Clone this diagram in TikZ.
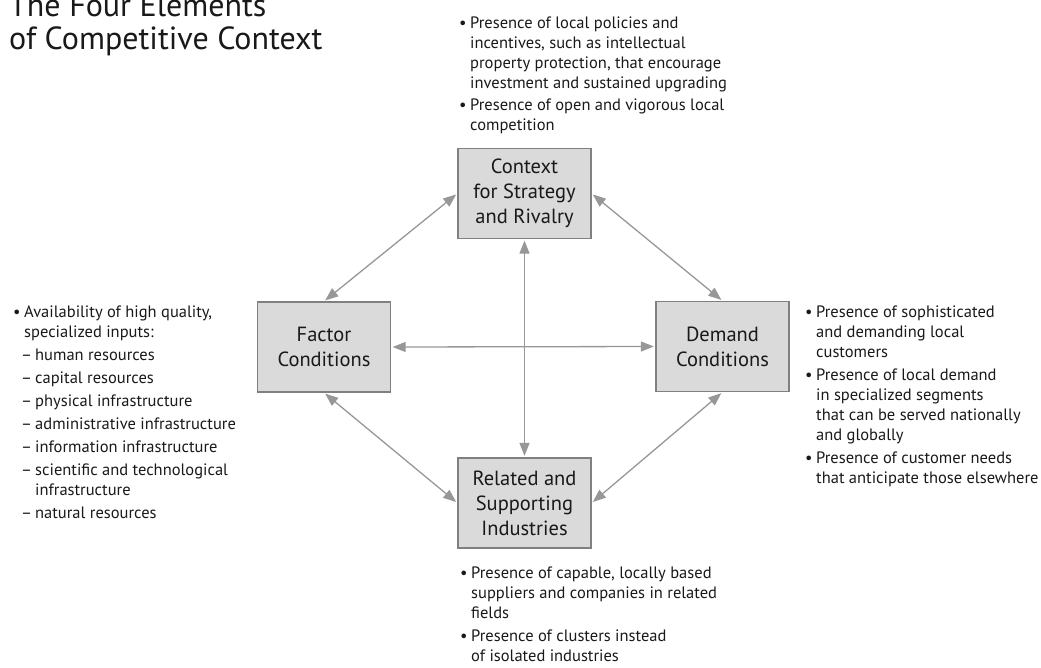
\documentclass[tikz,border=0pt]{standalone}
\usepackage{fontspec}
\setmainfont{PT Sans}
\usepackage{tikz}
\usetikzlibrary{arrows.meta}
\definecolor{boxfill}{HTML}{DADADA}
\definecolor{boxline}{HTML}{808080}
\definecolor{arrowgray}{HTML}{979797}
\newcommand{\bul}{\makebox[11pt][l]{\textbullet}}
\newcommand{\ind}{\hspace*{11pt}}
\newcommand{\dsh}{\hspace*{8pt}\makebox[14pt][l]{--}}
\newcommand{\dind}{\hspace*{22pt}}

\begin{document}
\begin{tikzpicture}[x=1pt,y=-1pt,
		element/.style={draw=boxline,fill=boxfill,line width=1.3pt,minimum width=133pt,minimum height=90pt,
			inner sep=0pt,align=center,font=\fontsize{20.5}{25}\selectfont,text=black!90},
		note/.style={anchor=north west,inner sep=0pt,align=left,font=\fontsize{16.5}{20}\selectfont,text=black!90},
		link/.style={arrowgray,line width=1.3pt,shorten <=1.5pt,shorten >=1.5pt,
			{Triangle[length=13pt,width=10pt]}-{Triangle[length=13pt,width=10pt]}}]
		\useasboundingbox (0,0) rectangle (1041,667);
		
		% title
		\node[anchor=north west,inner sep=0pt,align=left,font=\fontsize{32}{33}\selectfont,text=black!90] (title) at (9,-6) {The Four Elements\\of Competitive Context};
		
		% the four boxes
		\node[element] (rivalry) at (524.5,193.5) {Context\\for Strategy\\and Rivalry};
		\node[element] (factor) at (324,347) {Factor\\Conditions};
		\node[element] (demand) at (722.5,346.5) {Demand\\Conditions};
		\node[element] (related) at (524.5,503) {Related and\\Supporting\\Industries};
		
		% links
		\draw[link] (rivalry.west) -- (factor.north);
		\draw[link] (rivalry.east) -- (demand.north);
		\draw[link] (rivalry.south) -- (related.north);
		\draw[link] (factor.east) -- (demand.west);
		\draw[link] (factor.south) -- (related.west);
		\draw[link] (demand.south) -- (related.east);
		
		% notes
		\node[note] (rivalrytxt) at (459,17) {\bul Presence of local policies and\\
			\ind incentives, such as intellectual\\
			\ind property protection, that encourage\\
			\ind investment and sustained upgrading\\[2pt]
			\bul Presence of open and vigorous local\\
			\ind competition};
		\node[note] (factortxt) at (13,306) {\bul Availability of high quality,\\
			\ind specialized inputs:\\[3pt]
			\dsh human resources\\[3pt]
			\dsh capital resources\\[3pt]
			\dsh physical infrastructure\\[3pt]
			\dsh administrative infrastructure\\[3pt]
			\dsh information infrastructure\\[3pt]
			\dsh scientific and technological\\
			\dind infrastructure\\[3pt]
			\dsh natural resources};
		\node[note] (demandtxt) at (805,305.5) {\bul Presence of sophisticated\\
			\ind and demanding local\\
			\ind customers\\[3pt]
			\bul Presence of local demand\\
			\ind in specialized segments\\
			\ind that can be served nationally\\
			\ind and globally\\[3pt]
			\bul Presence of customer needs\\
			\ind that anticipate those elsewhere};
		\node[note] (relatedtxt) at (460,567) {\bul Presence of capable, locally based\\
			\ind suppliers and companies in related\\
			\ind fields\\[3pt]
			\bul Presence of clusters instead\\
			\ind of isolated industries};
		
\end{tikzpicture}
\end{document}
